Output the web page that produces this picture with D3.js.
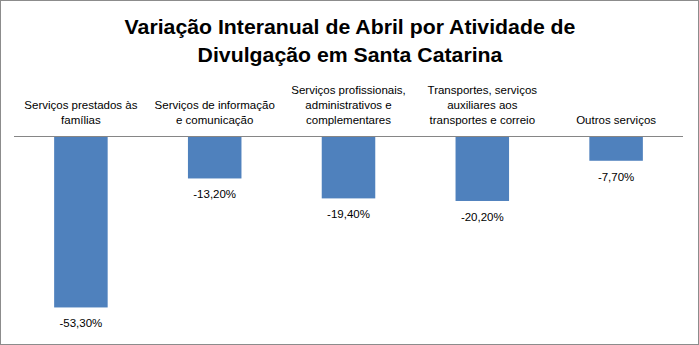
<!DOCTYPE html>
<html><head><meta charset="utf-8">
<script src="https://cdn.jsdelivr.net/npm/d3@7"></script>
<style>body{margin:0;background:#fff}svg{display:block}</style>
</head><body>
<svg id="c" width="699" height="345"></svg>
<script>
const titleLines = ["Variação Interanual de Abril por Atividade de", "Divulgação em Santa Catarina"];
const categories = [
  ["Serviços prestados às", "famílias"],
  ["Serviços de informação", "e comunicação"],
  ["Serviços profissionais,", "administrativos e", "complementares"],
  ["Transportes, serviços", "auxiliares aos", "transportes e correio"],
  ["Outros serviços"]
];
const values = [-53.3, -13.2, -19.4, -20.2, -7.7];
const valueLabels = ["-53,30%", "-13,20%", "-19,40%", "-20,20%", "-7,70%"];

const svg = d3.select("#c");
const W = 699, H = 345;
svg.append("rect").attr("x", 0.5).attr("y", 0.5).attr("width", W - 1).attr("height", H - 1)
  .attr("fill", "#fff").attr("stroke", "#8c8c8c").attr("stroke-width", 1);

// title: regular font compressed horizontally to mimic the narrow original face
const tg = svg.append("g").attr("transform", "translate(350,0)");
const title = tg.append("text").attr("text-anchor", "middle")
  .attr("font-family", "Liberation Sans, Arial, sans-serif").attr("font-weight", "bold")
  .attr("font-size", 21).attr("fill", "#000");
titleLines.forEach((t, i) => title.append("tspan").attr("x", 0).attr("y", 34 + i * 28).text(t));
const tw = title.node().getBBox().width;
tg.attr("transform", `translate(350,0) scale(${451 / tw},1)`);

const x = d3.scaleBand().domain(d3.range(values.length)).range([14, 683]).padding(0);
const y = d3.scaleLinear().domain([-60, 0]).range([329, 136]);
const bw = x.bandwidth() * 0.4;

svg.append("g").selectAll("rect").data(values).join("rect")
  .attr("x", (d, i) => x(i) + x.bandwidth() / 2 - bw / 2)
  .attr("y", y(0))
  .attr("width", bw)
  .attr("height", d => y(d) - y(0))
  .attr("fill", "#4f81bd");

svg.append("line").attr("x1", x.range()[0]).attr("x2", x.range()[1])
  .attr("y1", y(0) + 0.5).attr("y2", y(0) + 0.5).attr("stroke", "#868686").attr("stroke-width", 1);

const font = "Liberation Sans, Arial, sans-serif";
const cat = svg.append("g").attr("font-family", font).attr("font-size", 11.5).attr("fill", "#000").attr("text-anchor", "middle");
categories.forEach((lines, i) => {
  const t = cat.append("text");
  const n = lines.length;
  lines.forEach((l, j) => t.append("tspan").attr("x", x(i) + x.bandwidth() / 2)
    .attr("y", 123.5 - (n - 1 - j) * 15).text(l));
});

svg.append("g").attr("font-family", font).attr("font-size", 11.5).attr("fill", "#000").attr("text-anchor", "middle")
  .selectAll("text").data(values).join("text")
  .attr("x", (d, i) => x(i) + x.bandwidth() / 2)
  .attr("y", d => y(d) + 20)
  .text((d, i) => valueLabels[i]);
</script>
</body></html>
